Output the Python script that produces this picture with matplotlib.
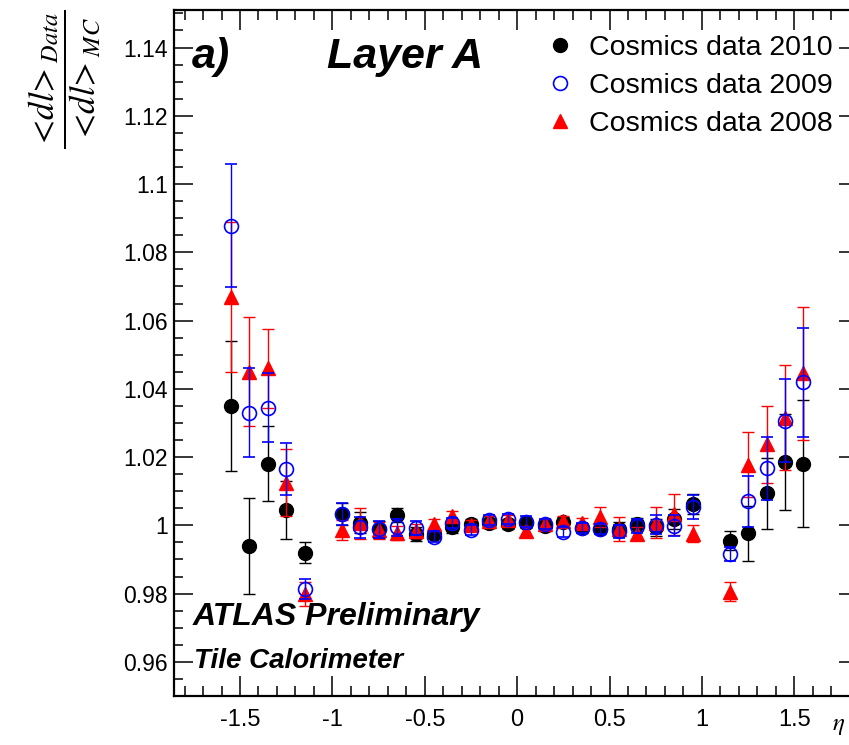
import matplotlib
matplotlib.use("Agg")
import matplotlib.pyplot as plt
from matplotlib.lines import Line2D
from matplotlib.ticker import MultipleLocator, FixedLocator, FixedFormatter

plt.rcParams['font.family'] = ['Liberation Sans', 'DejaVu Sans']
plt.rcParams['mathtext.fontset'] = 'stix'

# ---- data ----
eta = [-1.55, -1.45, -1.35, -1.25, -1.15,
       -0.95, -0.85, -0.75, -0.65, -0.55, -0.45, -0.35, -0.25, -0.15, -0.05,
       0.05, 0.15, 0.25, 0.35, 0.45, 0.55, 0.65, 0.75, 0.85, 0.95,
       1.15, 1.25, 1.35, 1.45, 1.55]

ratio_2010 = [1.035, 0.994, 1.018, 1.0046, 0.992,
              1.0033, 1.0008, 0.9989, 1.0030, 0.9974, 0.9974, 0.9994, 1.0003, 1.0008, 1.0005,
              1.0008, 0.9999, 1.0010, 0.9993, 0.9989, 0.9990, 1.0003, 0.9995, 1.0018, 1.0062,
              0.9955, 0.9977, 1.0094, 1.0185, 1.0181]
err_2010 = [0.019, 0.014, 0.011, 0.0085, 0.003,
            0.0033, 0.003, 0.0025, 0.002, 0.002, 0.0015, 0.0015, 0.0015, 0.0015, 0.0015,
            0.0015, 0.0015, 0.0015, 0.0015, 0.0015, 0.002, 0.002, 0.0025, 0.003, 0.003,
            0.0027, 0.008, 0.0104, 0.014, 0.0187]

ratio_2009 = [1.0878, 1.033, 1.0345, 1.0164, 0.9813,
              1.0033, 0.9994, 0.9989, 0.9994, 0.9992, 0.9967, 1.0008, 0.9986, 1.0015, 1.0018,
              1.0011, 1.0004, 0.9980, 0.9992, 0.9989, 0.9982, 0.9999, 1.0002, 0.9999, 1.0054,
              0.9916, 1.0071, 1.0167, 1.0307, 1.0419]
err_2009 = [0.018, 0.013, 0.010, 0.0076, 0.003,
            0.0033, 0.003, 0.0025, 0.0025, 0.002, 0.0015, 0.0015, 0.0015, 0.0015, 0.0015,
            0.0015, 0.0015, 0.0015, 0.0015, 0.0015, 0.002, 0.002, 0.0028, 0.003, 0.0035,
            0.002, 0.0075, 0.0093, 0.0122, 0.016]

ratio_2008 = [1.0669, 1.0450, 1.0460, 1.0125, 0.9799,
              0.9987, 1.0006, 0.9986, 0.9978, 0.9984, 1.0005, 1.0026, 1.0001, 1.0013, 1.0016,
              0.9982, 1.0004, 1.0013, 1.0006, 1.0025, 0.9990, 0.9976, 1.0008, 1.0033, 0.9976,
              0.9805, 1.0178, 1.0237, 1.0316, 1.0446]
err_2008 = [0.022, 0.016, 0.0115, 0.0098, 0.0035,
            0.003, 0.0045, 0.0025, 0.002, 0.002, 0.0015, 0.0015, 0.0015, 0.0015, 0.0015,
            0.0015, 0.0015, 0.0015, 0.0015, 0.003, 0.0035, 0.002, 0.0045, 0.006, 0.0025,
            0.0028, 0.0095, 0.0113, 0.0155, 0.0195]

labels = ["Cosmics data 2010", "Cosmics data 2009", "Cosmics data 2008"]
xticks = [-1.5, -1, -0.5, 0, 0.5, 1, 1.5]
xticklabels = ["-1.5", "-1", "-0.5", "0", "0.5", "1", "1.5"]
yticks = [0.96, 0.98, 1.0, 1.02, 1.04, 1.06, 1.08, 1.1, 1.12, 1.14]
yticklabels = ["0.96", "0.98", "1", "1.02", "1.04", "1.06", "1.08", "1.1", "1.12", "1.14"]

W, H = 849, 745
fig = plt.figure(figsize=(W / 100, H / 100), dpi=100)
L, R, T, B = 173.5, 858.0, 10.0, 696.0
ax = fig.add_axes([L / W, 1 - B / H, (R - L) / W, (B - T) / H])
ax.set_xlim(-1.86, 1.845)
ax.set_ylim(0.95, 1.151)

ms = 10
common = dict(linestyle='none', capsize=4.3, elinewidth=1.0, capthick=1.0, markersize=ms)
ax.errorbar(eta, ratio_2010, yerr=err_2010, marker='o', color='black', ecolor='black',
            mfc='black', mec='black', zorder=3, **common)
ax.errorbar(eta, ratio_2008, yerr=err_2008, marker='^', color='#ff0000', ecolor='#ff0000',
            mfc='#ff0000', mec='#ff0000', zorder=4, **common)
ax.errorbar(eta, ratio_2009, yerr=err_2009, marker='o', color='#0000ff', ecolor='#0000ff',
            mfc='none', mec='#0000ff', mew=1.2, zorder=5, **common)

# axes styling (ROOT-like)
for s in ax.spines.values():
    s.set_linewidth(1.6)
ax.xaxis.set_major_locator(FixedLocator(xticks))
ax.xaxis.set_major_formatter(FixedFormatter(xticklabels))
ax.xaxis.set_minor_locator(MultipleLocator(0.1))
ax.yaxis.set_major_locator(FixedLocator(yticks))
ax.yaxis.set_major_formatter(FixedFormatter(yticklabels))
ax.yaxis.set_minor_locator(MultipleLocator(0.005))
ax.tick_params(axis='both', which='both', direction='in', top=True, right=True, width=1.1)
ax.tick_params(axis='x', which='major', length=14.5, pad=9, labelsize=17)
ax.tick_params(axis='x', which='minor', length=7)
ax.tick_params(axis='y', which='major', length=13.5, pad=4, labelsize=16.5)
ax.tick_params(axis='y', which='minor', length=6.5)

# legend
handles = [Line2D([], [], linestyle='none', marker='o', color='black', markersize=ms),
           Line2D([], [], linestyle='none', marker='o', mfc='none', mec='#0000ff', mew=1.2, markersize=ms),
           Line2D([], [], linestyle='none', marker='^', color='#ff0000', markersize=ms)]
fig.legend(handles, labels, loc='upper left', bbox_to_anchor=(546 / W, 1 - 35 / H),
           frameon=False, fontsize=20.5, handlelength=1.0, handletextpad=0.5,
           labelspacing=0.42, borderpad=0, borderaxespad=0)

# annotations
fig.text(192 / W, 1 - 68 / H, "a)", fontsize=31, fontweight='bold', fontstyle='italic',
         ha='left', va='baseline')
fig.text(327 / W, 1 - 68 / H, "Layer A", fontsize=31, fontweight='bold', fontstyle='italic',
         ha='left', va='baseline')
fig.text(193 / W, 1 - 625 / H, "ATLAS Preliminary", fontsize=23, fontweight='bold',
         fontstyle='italic', ha='left', va='baseline')
fig.text(194 / W, 1 - 668 / H, "Tile Calorimeter", fontsize=20, fontweight='bold',
         fontstyle='italic', ha='left', va='baseline')

# y-axis title
fig.text(64 / W, 1 - 79 / H, r'$\dfrac{<\!dl\!>_{Data}}{<\!dl\!>_{MC}}$',
         fontsize=25, rotation=90, ha='center', va='center')

# x-axis title (at the lower right corner, as in the original)
fig.text(845 / W, 1 - 730 / H, r'$\eta$', fontsize=18, ha='right', va='baseline')

fig.savefig("out.png", dpi=100)
